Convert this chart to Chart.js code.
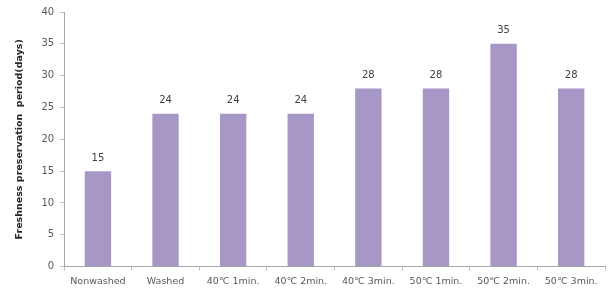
<!DOCTYPE html>
<html>
<head>
<meta charset="utf-8">
<script src="https://cdn.jsdelivr.net/npm/chart.js@4/dist/chart.umd.min.js"></script>
<style>
  html, body { margin: 0; padding: 0; background: #fff; }
  #wrap { width: 609px; height: 298px; }
</style>
</head>
<body>
<div id="wrap"><canvas id="chart"></canvas></div>
<script>
const categories = ['Nonwashed', 'Washed', '40℃ 1min.', '40℃ 2min.', '40℃ 3min.', '50℃ 1min.', '50℃ 2min.', '50℃ 3min.'];
const days = [15, 24, 24, 24, 28, 28, 35, 28];
const yTicks = [0, 5, 10, 15, 20, 25, 30, 35, 40];

// values above bars
const barLabels = {
  id: 'barLabels',
  afterDatasetsDraw(chart) {
    const ctx = chart.ctx;
    const meta = chart.getDatasetMeta(0);
    ctx.save();
    ctx.font = '10px "DejaVu Sans", sans-serif';
    ctx.fillStyle = '#404040';
    ctx.textAlign = 'center';
    ctx.textBaseline = 'bottom';
    meta.data.forEach((bar, i) => {
      ctx.fillText(days[i], bar.x, bar.y - 8);
    });
    ctx.restore();
  }
};

new Chart(document.getElementById('chart'), {
  type: 'bar',
  data: {
    labels: categories,
    datasets: [{
      data: days,
      backgroundColor: '#a797c7',
      barPercentage: 0.39,
      categoryPercentage: 1,
    }],
  },
  options: {
    responsive: true,
    maintainAspectRatio: false,
    animation: false,
    layout: { padding: { top: 11, right: 4, left: 10, bottom: 6 } },
    plugins: { legend: { display: false }, tooltip: { enabled: false } },
    scales: {
      x: {
        grid: { display: true, drawOnChartArea: false, offset: true, tickLength: 4, color: '#bfbfbf' },
        border: { color: '#a6a6a6' },
        ticks: { color: '#595959', font: { size: 9.5, family: '"DejaVu Sans", sans-serif' }, maxRotation: 0, padding: 5 },
      },
      y: {
        min: 0,
        max: 40,
        afterBuildTicks: (axis) => { axis.ticks = yTicks.map(v => ({ value: v })); },
        grid: { display: true, drawOnChartArea: false, tickLength: 4, color: '#bfbfbf' },
        border: { color: '#a6a6a6' },
        ticks: { color: '#595959', font: { size: 10, family: '"DejaVu Sans", sans-serif' }, padding: 6 },
        title: {
          display: true,
          text: 'Freshness preservation  period(days)',
          color: '#262626',
          font: { size: 9.5, weight: 'bold', family: '"DejaVu Sans", sans-serif' },
          padding: { bottom: 10 },
        },
      },
    },
  },
  plugins: [barLabels],
});
</script>
</body>
</html>
